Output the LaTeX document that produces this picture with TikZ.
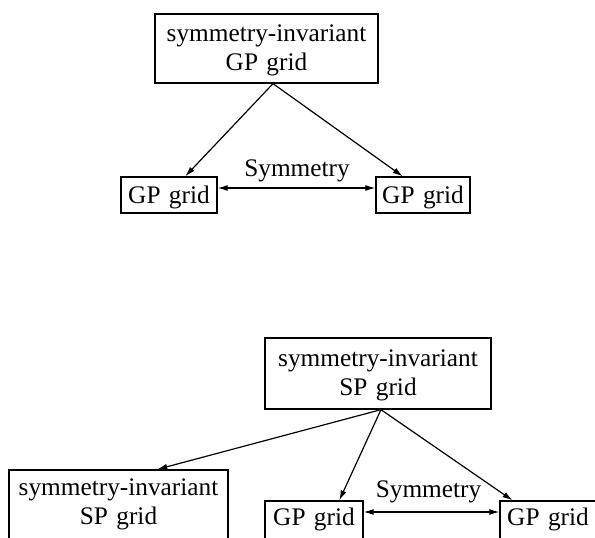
\documentclass[tikz,border=0pt]{standalone}
\usepackage{fontspec}
\setmainfont{Liberation Serif}
\usetikzlibrary{arrows.meta,calc}
\begin{document}
\begin{tikzpicture}[x=1bp,y=-1bp,
  txt/.style={font=\fontsize{25.3bp}{29bp}\selectfont},
  box/.style={txt, draw, line width=1.3bp, inner sep=0pt, align=center, anchor=base},
  lbl/.style={txt, inner sep=0pt, anchor=base},
  tip/.tip={Latex[length=10bp,width=6bp]},
  arr/.style={line width=1.2bp, -tip},
  darr/.style={line width=1.2bp, tip-tip}]
\useasboundingbox (0,0) rectangle (595,538);
\clip (0,0) rectangle (595,538);
% ---------- upper diagram ----------
\node[box, text width=223bp, text height=28bp, text depth=41bp] (T1) at (266.5,42) {symmetry-invariant\\GP grid};
\node[box, text width=96bp, text height=27bp, text depth=9bp] (A1) at (169,204) {GP grid};
\node[box, text width=94bp, text height=27bp, text depth=9bp] (A2) at (423,204) {GP grid};
\node[lbl] (S1) at (297,177) {Symmetry};
\coordinate (t1s) at ($(T1.south west)!0.529!(T1.south east)$);
\coordinate (a1n) at ($(A1.north west)!0.667!(A1.north east)$);
\coordinate (a2n) at ($(A2.north west)!0.287!(A2.north east)$);
\draw[arr] (t1s) -- (a1n);
\draw[arr] (t1s) -- (a2n);
\draw[darr] ([yshift=7bp]A1.east) -- ([yshift=7bp]A2.west);
% ---------- lower diagram ----------
\node[box, text width=226bp, text height=28bp, text depth=43bp] (B1) at (378,366) {symmetry-invariant\\SP grid};
\node[box, text width=219bp, text height=25bp, text depth=50bp] (C1) at (118.5,495) {symmetry-invariant\\SP grid};
\node[box, text width=98bp, text height=24bp, text depth=20bp] (C2) at (314,525) {GP grid};
\node[box, text width=96bp, text height=24bp, text depth=20bp] (C3) at (548,525) {GP grid};
\node[lbl] (S2) at (428.5,497) {Symmetry};
\coordinate (b1s) at ($(B1.south west)!0.513!(B1.south east)$);
\coordinate (c1n) at ($(C1.north west)!0.676!(C1.north east)$);
\coordinate (c2n) at ($(C2.north west)!0.755!(C2.north east)$);
\coordinate (c3n) at ($(C3.north west)!0.135!(C3.north east)$);
\draw[arr] (b1s) -- (c1n);
\draw[arr] (b1s) -- (c2n);
\draw[arr] (b1s) -- (c3n);
\draw[darr] ([yshift=11bp]C2.east) -- ([yshift=11bp]C3.west);
\end{tikzpicture}
\end{document}
